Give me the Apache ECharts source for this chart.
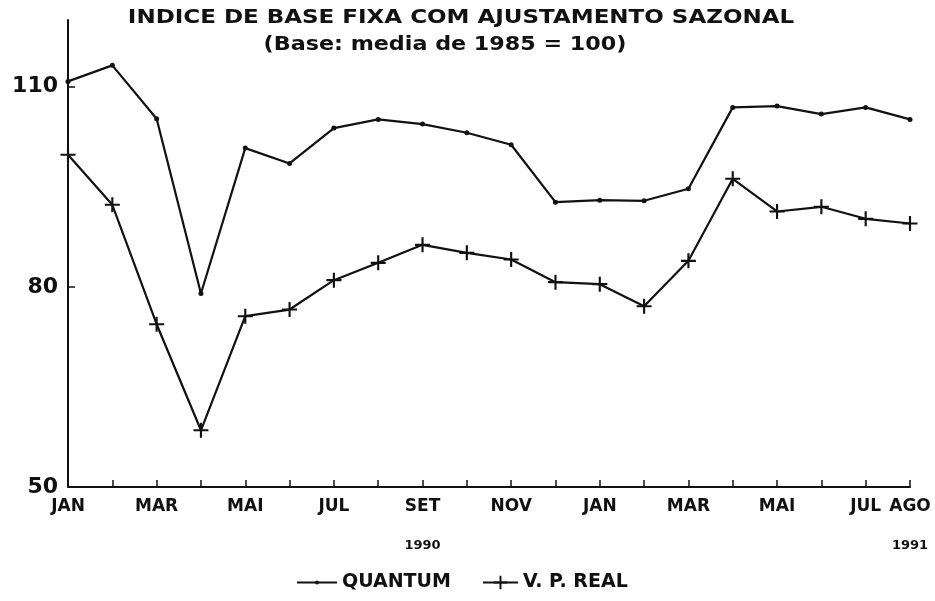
<!DOCTYPE html>
<html>
<head>
<meta charset="utf-8">
<script src="https://cdn.jsdelivr.net/npm/echarts@6/dist/echarts.min.js"></script>
<style>html,body{margin:0;padding:0;background:#fff}#c{width:935px;height:601px}</style>
</head>
<body>
<div id="c"></div>
<script>
const months = ['JAN','FEV','MAR','ABR','MAI','JUN','JUL','AGO','SET','OUT','NOV','DEZ',
                'JAN','FEV','MAR','ABR','MAI','JUN','JUL','AGO'];
const yearLabels = {8: '1990', 19: '1991'};
const quantum = [110.8,113.2,105.2,79.0,100.8,98.5,103.8,105.1,104.4,103.1,101.3,92.7,
                 93.0,92.9,94.7,106.9,107.1,105.9,106.9,105.1];
const vpReal  = [99.8,92.3,74.4,58.5,75.6,76.6,81.0,83.6,86.3,85.1,84.1,80.7,
                 80.4,77.1,83.9,96.2,91.3,92.0,90.2,89.5];
const yTicks = {min: 50, max: 120, step: 30};
const titleText = 'INDICE DE BASE FIXA COM AJUSTAMENTO SAZONAL';
const subtitleText = '(Base: media de 1985 = 100)';

const FONT = '"DejaVu Sans", "Liberation Sans", sans-serif';
const plus = 'path://M6,0h2v6h6v2h-6v6h-2v-6h-6v-2h6z';

const chart = echarts.init(document.getElementById('c'), null, {renderer: 'canvas'});
chart.setOption({
  backgroundColor: '#fff',
  animation: false,
  graphic: [
    {type: 'text', x: 461, y: 18, scaleX: 1.15,
     style: {text: titleText, font: 'bold 20px ' + FONT, fill: '#111', align: 'center', verticalAlign: 'middle'}},
    {type: 'text', x: 445, y: 45, scaleX: 1.17,
     style: {text: subtitleText, font: 'bold 19px ' + FONT, fill: '#111', align: 'center', verticalAlign: 'middle'}}
  ],
  legend: [
    {left: 291, top: 568, itemWidth: 40, itemHeight: 5,
     textStyle: {fontFamily: FONT, fontSize: 19, fontWeight: 'bold', color: '#111'},
     data: ['QUANTUM']},
    {left: 477, top: 568, itemWidth: 35, itemHeight: 17,
     textStyle: {fontFamily: FONT, fontSize: 19, fontWeight: 'bold', color: '#111'},
     data: ['V. P. REAL']}
  ],
  grid: {left: 68, right: 25, top: 20, bottom: 114},
  xAxis: {
    type: 'category', data: months, boundaryGap: false,
    axisLine: {lineStyle: {color: '#111', width: 2}},
    axisTick: {show: true, inside: true, length: 7, interval: 0, lineStyle: {color: '#111', width: 1.5}},
    axisLabel: {
      interval: function (i) { return i % 2 === 0 || i === months.length - 1; },
      color: '#111', fontFamily: FONT, fontSize: 17, fontWeight: 'bold', margin: 11,
      formatter: function (v, i) {
        return yearLabels[i] ? v + '\n{y|' + yearLabels[i] + '}' : v;
      },
      rich: {y: {fontFamily: FONT, fontSize: 13, fontWeight: 'bold', color: '#111', padding: [24, 0, 0, 0]}}
    },
    splitLine: {show: false}
  },
  yAxis: {
    type: 'value', min: yTicks.min, max: yTicks.max, interval: yTicks.step,
    axisLine: {show: true, lineStyle: {color: '#111', width: 2}},
    axisTick: {show: true, inside: true, length: 7, lineStyle: {color: '#111', width: 1.5}},
    axisLabel: {color: '#111', fontFamily: FONT, fontSize: 22, fontWeight: 'bold', margin: 10, showMaxLabel: false},
    splitLine: {show: false}
  },
  series: [
    {name: 'QUANTUM', type: 'line', data: quantum, symbol: 'circle', symbolSize: 5,
     lineStyle: {color: '#111', width: 2.2}, itemStyle: {color: '#111'}},
    {name: 'V. P. REAL', type: 'line', data: vpReal, symbol: plus, symbolSize: 15,
     lineStyle: {color: '#111', width: 2.2}, itemStyle: {color: '#111'}}
  ]
});
</script>
</body>
</html>
